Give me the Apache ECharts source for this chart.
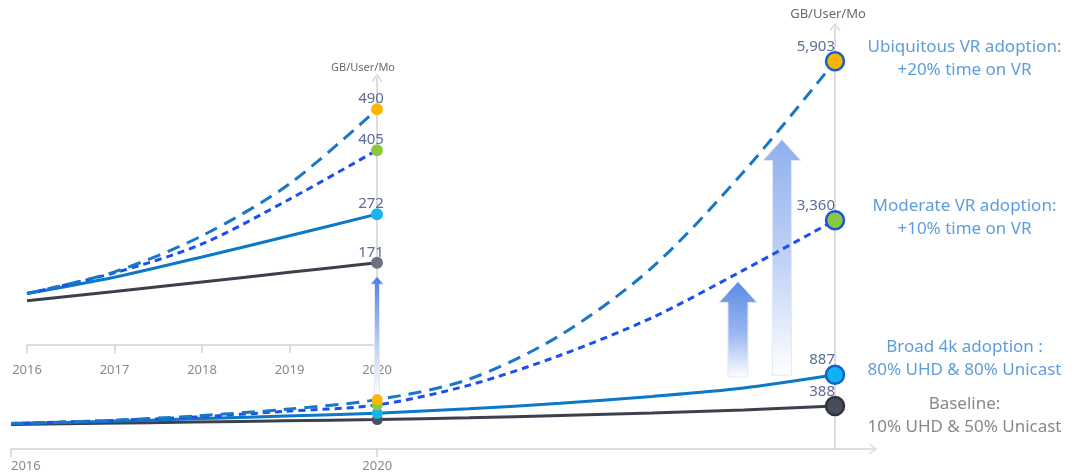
<!DOCTYPE html>
<html>
<head>
<meta charset="utf-8">
<script src="https://cdn.jsdelivr.net/npm/echarts@6/dist/echarts.min.js"></script>
<style>
  html, body { margin: 0; padding: 0; background: #ffffff; }
  #chart { width: 1072px; height: 475px; }
</style>
</head>
<body>
<div id="chart"></div>
<script>
// Monthly traffic per user (GB/User/Mo) for four adoption scenarios
const years = [2016, 2017, 2018, 2019, 2020, 2021, 2022, 2023, 2024, 2025];
const insetYears = [2016, 2017, 2018, 2019, 2020];
const baseline = [92, 111, 131, 151, 171, 200, 235, 275, 325, 388];
const broad4k = [107, 141, 183, 227, 272, 345, 430, 540, 675, 887];
const moderateVR = [107, 150, 210, 303, 405, 720, 1200, 1800, 2560, 3360];
const ubiquitousVR = [107, 152, 227, 335, 490, 815, 1520, 2600, 4130, 5903];
const mainTickYears = [2016, 2020, 2025];
const unitName = 'GB/User/Mo';
const scenarioNotes = [
  'Baseline:\n10% UHD & 50% Unicast',
  'Broad 4k adoption :\n80% UHD & 80% Unicast',
  'Moderate VR adoption:\n+10% time on VR',
  'Ubiquitous VR adoption:\n+20% time on VR'
];

const LAST_YEAR = years[years.length - 1];
const PIVOT_YEAR = insetYears[insetYears.length - 1];
const FONT = '"Noto Sans", "Open Sans", sans-serif';
const fmt = v => v.toLocaleString('en-US');

// Styling per scenario
const scenarios = [
  { values: baseline, note: scenarioNotes[0], line: '#3b404c', dash: 'solid',
    insetDot: '#6b7280', midDot: '#4b515e', endDot: '#474d5a', endBorder: '#2f333b',
    noteColor: '#6a6a6a', noteShift: 10 },
  { values: broad4k, note: scenarioNotes[1], line: '#0b78c8', dash: 'solid',
    insetDot: '#17b4f0', midDot: '#17b4f0', endDot: '#0fb2f2', endBorder: '#0d63c9',
    noteColor: '#3685d2', noteShift: -16 },
  { values: moderateVR, note: scenarioNotes[2], line: '#1c4ff0', dash: [7, 5],
    insetDot: '#8dc63f', midDot: '#8dc63f', endDot: '#8dc63f', endBorder: '#1a55d8',
    noteColor: '#3685d2', noteShift: -3 },
  { values: ubiquitousVR, note: scenarioNotes[3], line: '#1878c6', dash: [13, 8],
    insetDot: '#fbb800', midDot: '#fbb800', endDot: '#f7b500', endBorder: '#1660cf',
    noteColor: '#3685d2', noteShift: -3 }
];

const AXIS_GREY = '#d2d2d2';
const VALUE_COLOR = '#5d6b98';
const chevron = 'path://M0,8 L6,0 L12,8 L11,9 L6,2.2 L1,9 Z';

const series = [];
scenarios.forEach(s => {
  // Main panel: whole trajectory, x counted in years relative to the last year
  series.push({
    type: 'line', xAxisIndex: 0, yAxisIndex: 0, z: 3,
    smooth: 0.3, symbol: 'circle', showSymbol: true,
    lineStyle: { color: s.line, width: 3, type: s.dash },
    itemStyle: { color: s.line },
    label: { show: false },
    data: years.map((y, i) => {
      const v = s.values[i];
      const item = { value: [y - LAST_YEAR, v] };
      if (y === PIVOT_YEAR) {
        item.symbolSize = 11;
        item.itemStyle = { color: s.midDot, borderWidth: 0 };
      } else if (y === LAST_YEAR) {
        item.symbolSize = 18;
        item.itemStyle = { color: s.endDot, borderColor: s.endBorder, borderWidth: 2.5 };
        item.label = {
          show: true, position: 'top', align: 'right', distance: 0, offset: [0, 3],
          formatter: fmt(v), color: VALUE_COLOR, fontSize: 15, fontFamily: FONT
        };
      } else {
        item.symbol = 'none';
      }
      return item;
    })
  });
  // Inset panel: zoom on the first five years
  series.push({
    type: 'line', xAxisIndex: 1, yAxisIndex: 1, z: 3,
    smooth: 0.3, symbol: 'circle', showSymbol: true,
    lineStyle: { color: s.line, width: 3, type: s.dash },
    itemStyle: { color: s.line },
    data: insetYears.map((y, i) => {
      const v = s.values[i];
      const item = { value: [y, v] };
      if (y === PIVOT_YEAR) {
        item.symbolSize = 12;
        item.itemStyle = { color: s.insetDot, borderWidth: 0 };
        item.label = {
          show: true, position: 'top', distance: 0, offset: [-6, 3],
          formatter: fmt(v), color: VALUE_COLOR, fontSize: 15, fontFamily: FONT
        };
      } else {
        item.symbol = 'none';
      }
      return item;
    })
  });
});

// Scenario descriptions next to the final points
series.push({
  type: 'scatter', xAxisIndex: 0, yAxisIndex: 0, silent: true, z: 4,
  symbolSize: 1, itemStyle: { color: 'rgba(0,0,0,0)' },
  data: scenarios.map(s => ({
    value: [0, s.values[s.values.length - 1]],
    label: {
      show: true, position: 'right', distance: 0, align: 'center', verticalAlign: 'middle',
      offset: [129, s.noteShift], formatter: s.note, color: s.noteColor,
      fontSize: 17, lineHeight: 23, fontFamily: FONT
    }
  }))
});

const option = {
  animation: false,
  backgroundColor: '#ffffff',
  textStyle: { fontFamily: FONT },
  grid: [
    { left: 11, top: 27, width: 862, height: 422 },
    { left: 27, top: 78, width: 350, height: 267 }
  ],
  xAxis: [
    {
      gridIndex: 0, type: 'value', min: years[0] - LAST_YEAR, max: 0.415,
      axisLine: { onZero: false, lineStyle: { color: AXIS_GREY, width: 1.5 },
        symbol: ['none', chevron], symbolSize: [13, 8] },
      axisTick: { show: true, length: 8, lineStyle: { color: AXIS_GREY, width: 1.5 },
        customValues: mainTickYears.map(y => y - LAST_YEAR) },
      axisLabel: { show: true, margin: 11, color: '#8a8a8a', fontSize: 13, fontFamily: FONT,
        alignMinLabel: 'left', showMaxLabel: false,
        customValues: mainTickYears.map(y => y - LAST_YEAR),
        formatter: v => String(Math.round(v) + LAST_YEAR) },
      splitLine: { show: false }
    },
    {
      gridIndex: 1, type: 'value', min: insetYears[0], max: PIVOT_YEAR, interval: 1,
      axisLine: { onZero: false, lineStyle: { color: AXIS_GREY, width: 1.5 } },
      axisTick: { show: true, length: 8, lineStyle: { color: AXIS_GREY, width: 1.5 } },
      axisLabel: { margin: 19, color: '#8a8a8a', fontSize: 13, fontFamily: FONT,
        formatter: v => String(v) },
      splitLine: { show: false }
    }
  ],
  yAxis: [
    {
      gridIndex: 0, type: 'value', min: -300, max: 6450,
      name: unitName, nameLocation: 'end', nameGap: 6,
      nameTextStyle: { color: '#6a6a6a', fontSize: 13, fontFamily: FONT, padding: [0, 14, 0, 0] },
      axisLine: { show: true, onZero: true, lineStyle: { color: AXIS_GREY, width: 1.5 },
        symbol: ['none', chevron], symbolSize: [13, 8] },
      axisTick: { show: false }, axisLabel: { show: false }, splitLine: { show: false }
    },
    {
      gridIndex: 1, type: 'value', min: 0, max: 555, position: 'right',
      name: unitName, nameLocation: 'end', nameGap: 5,
      nameTextStyle: { color: '#6a6a6a', fontSize: 11, fontFamily: FONT, padding: [0, 28, 0, 0] },
      axisLine: { show: true, lineStyle: { color: AXIS_GREY, width: 1.5 },
        symbol: ['none', chevron], symbolSize: [13, 8] },
      axisTick: { show: false }, axisLabel: { show: false }, splitLine: { show: false }
    }
  ],
  series: series
};

const chart = echarts.init(document.getElementById('chart'), null, { renderer: 'canvas' });
chart.setOption(option);

// Upward growth arrows, anchored in data units
const growthArrows = [
  { grid: 0, x: -1.06, from: 850, to: 2380, shaft: 20, head: 38, headH: 21,
    colors: ['#5a8be6', '#9bb8f0', '#ffffff'] },
  { grid: 0, x: -0.58, from: 880, to: 4650, shaft: 19, head: 38, headH: 21,
    colors: ['#8fb0ee', '#c4d5f6', '#ffffff'] }
];

function arrowPoints(xc, yTop, yBot, shaftW, headW, headH) {
  return [
    [xc - shaftW / 2, yBot], [xc - shaftW / 2, yTop + headH], [xc - headW / 2, yTop + headH],
    [xc, yTop],
    [xc + headW / 2, yTop + headH], [xc + shaftW / 2, yTop + headH], [xc + shaftW / 2, yBot]
  ];
}

function gradient(colors) {
  return {
    type: 'linear', x: 0, y: 0, x2: 0, y2: 1,
    colorStops: [
      { offset: 0, color: colors[0] },
      { offset: 0.55, color: colors[1] },
      { offset: 1, color: colors[2] }
    ]
  };
}

const graphics = growthArrows.map(a => {
  const top = chart.convertToPixel({ gridIndex: a.grid }, [a.x, a.to]);
  const bot = chart.convertToPixel({ gridIndex: a.grid }, [a.x, a.from]);
  return {
    type: 'polygon', z: 1, silent: true,
    shape: { points: arrowPoints(top[0], top[1], bot[1], a.shaft, a.head, a.headH) },
    style: { fill: gradient(a.colors), stroke: '#e4e9f2', lineWidth: 1 }
  };
});

// Thin arrow linking the 2020 points of the main panel to the inset
const linkTop = chart.convertToPixel({ gridIndex: 1 }, [PIVOT_YEAR, 143]);
const linkBot = chart.convertToPixel({ gridIndex: 0 }, [PIVOT_YEAR - LAST_YEAR, 560]);
graphics.push({
  type: 'polygon', z: 1, silent: true,
  shape: { points: arrowPoints(linkTop[0], linkTop[1], linkBot[1], 5, 13, 8) },
  style: { fill: gradient(['#4a7fe6', '#b9cdf5', '#ffffff']), stroke: '#e6e9ef', lineWidth: 1 }
});

chart.setOption({ graphic: graphics });
</script>
</body>
</html>
